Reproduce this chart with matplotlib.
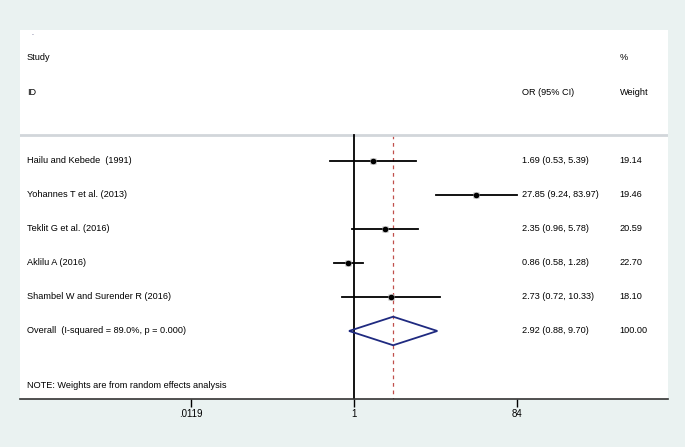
import matplotlib.pyplot as plt
from matplotlib.patches import Polygon

# study data
studies = ["Hailu and Kebede  (1991)", "Yohannes T et al. (2013)", "Teklit G et al. (2016)",
           "Aklilu A (2016)", "Shambel W and Surender R (2016)"]
or_est = [1.69, 27.85, 2.35, 0.86, 2.73]
ci_low = [0.53, 9.24, 0.96, 0.58, 0.72]
ci_high = [5.39, 83.97, 5.78, 1.28, 10.33]
weights = [19.14, 19.46, 20.59, 22.70, 18.10]

overall_label = "Overall  (I-squared = 89.0%, p = 0.000)"
overall_or = 2.92
overall_low = 0.88
overall_high = 9.70
overall_weight = 100.00

tick_vals = [0.0119, 1, 84]
tick_labels = [".0119", "1", "84"]

plt.rcParams['font.family'] = ['Liberation Sans', 'DejaVu Sans']

fig = plt.figure(figsize=(6.85, 4.47), dpi=100, facecolor='#eaf2f1')
ax = fig.add_axes([20 / 685, 48 / 447, 648 / 685, 369 / 447])
ax.set_facecolor('white')

ax.set_xscale('log')
ax.set_xlim(10 ** -3.94, 10 ** 3.71)
ax.set_ylim(7, -3.85)

fs = 6.6
col_or = 10 ** 1.99
col_w = 10 ** 3.14
col_lab = 10 ** -3.86

# header
ax.text(10 ** -3.8, -3.74, ".", fontsize=5, va='center', color='#333366')
ax.text(col_lab, -3.03, "Study", fontsize=fs, va='center')
ax.text(col_lab, -2.0, "ID", fontsize=fs, va='center')
ax.text(col_or, -2.0, "OR (95% CI)", fontsize=fs, va='center')
ax.text(col_w, -3.03, "%", fontsize=fs, va='center')
ax.text(col_w, -2.0, "Weight", fontsize=fs, va='center')
ax.axhline(-0.76, color='#d2d6da', lw=2)

# reference lines
ax.plot([1, 1], [-0.76, 7], color='black', lw=1.3, zorder=2)
ax.plot([overall_or, overall_or], [-0.76, 7], color='#c0504d', lw=0.9,
        linestyle=(0, (3, 3)), zorder=1)

for i, name in enumerate(studies):
    ax.plot([ci_low[i], ci_high[i]], [i, i], color='black', lw=1.3, zorder=3)
    ax.plot(or_est[i], i, marker='s', ms=5, color='#b0b0b0', mec='none', zorder=3)
    ax.plot(or_est[i], i, marker='o', ms=3, color='black', zorder=4)
    ax.text(col_lab, i, name, fontsize=fs, va='center')
    ax.text(col_or, i, f"{or_est[i]:.2f} ({ci_low[i]:.2f}, {ci_high[i]:.2f})", fontsize=fs, va='center')
    ax.text(col_w, i, f"{weights[i]:.2f}", fontsize=fs, va='center')

# overall diamond
k = len(studies)
diamond = Polygon([[overall_low, k], [overall_or, k - 0.42], [overall_high, k], [overall_or, k + 0.42]],
                  closed=True, fill=False, edgecolor='#1f2a80', lw=1.3, zorder=5)
ax.add_patch(diamond)
ax.text(col_lab, k, overall_label, fontsize=fs, va='center')
ax.text(col_or, k, f"{overall_or:.2f} ({overall_low:.2f}, {overall_high:.2f})", fontsize=fs, va='center')
ax.text(col_w, k, f"{overall_weight:.2f}", fontsize=fs, va='center')

ax.text(col_lab, 6.6, "NOTE: Weights are from random effects analysis", fontsize=fs, va='center')

for s in ['top', 'left', 'right']:
    ax.spines[s].set_visible(False)
ax.spines['bottom'].set_color('#333333')
ax.spines['bottom'].set_linewidth(1.2)
ax.set_yticks([])
ax.set_xticks(tick_vals)
ax.set_xticklabels(tick_labels, fontsize=7)
ax.minorticks_off()
ax.tick_params(axis='x', length=6, width=1, pad=1.5)

fig.savefig("out.png", dpi=100, facecolor=fig.get_facecolor())
